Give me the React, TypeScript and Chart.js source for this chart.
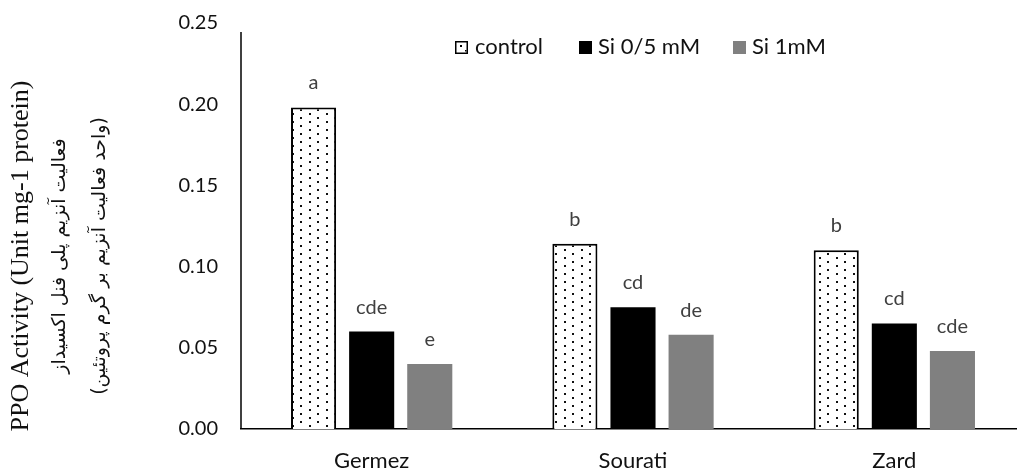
import React, { useEffect, useRef } from 'react';
import { Chart, registerables } from 'chart.js';

Chart.register(...registerables);

const categories = ['Germez', 'Sourati', 'Zard'];
const seriesNames = ['control', 'Si 0/5 mM', 'Si 1mM'];
const controlValues = [0.198, 0.114, 0.110];
const si05Values = [0.060, 0.075, 0.065];
const si1Values = [0.040, 0.058, 0.048];
const controlLetters = ['a', 'b', 'b'];
const si05Letters = ['cde', 'cd', 'cd'];
const si1Letters = ['e', 'de', 'cde'];
const yMin = 0;
const yMax = 0.25;
const yStep = 0.05;
const titleLines = [
  'PPO Activity (Unit mg-1 protein)',
  'فعالیت آنزیم پلی فنل اکسیداز',
  '(واحد فعالیت آنزیم بر گرم پروتئین)',
];

const letters = [controlLetters, si05Letters, si1Letters];

export default function App() {
  const ref = useRef<HTMLCanvasElement>(null);

  useEffect(() => {
    const canvas = ref.current!;
    const ctx = canvas.getContext('2d')!;

    const pc = document.createElement('canvas');
    pc.width = 17;
    pc.height = 8;
    const pctx = pc.getContext('2d')!;
    pctx.fillStyle = '#ffffff';
    pctx.fillRect(0, 0, 17, 8);
    pctx.fillStyle = '#111111';
    pctx.fillRect(3, 1, 2, 2);
    pctx.fillRect(11, 5, 2, 2);
    const pattern = ctx.createPattern(pc, 'repeat')!;

    const decor = {
      id: 'decor',
      afterDraw(chart: any) {
        const c = chart.ctx;
        const area = chart.chartArea;
        c.save();
        // y axis line
        c.strokeStyle = '#000';
        c.lineWidth = 1.5;
        c.beginPath();
        c.moveTo(area.left, area.top + 9);
        c.lineTo(area.left, area.bottom);
        c.stroke();

        // letters
        c.fillStyle = '#404040';
        c.font = '20px Lato';
        c.textAlign = 'center';
        c.textBaseline = 'alphabetic';
        chart.data.datasets.forEach((ds: any, di: number) => {
          const meta = chart.getDatasetMeta(di);
          meta.data.forEach((el: any, i: number) => {
            c.fillText(letters[di][i], el.x, el.y - 18);
          });
        });

        // legend
        c.textAlign = 'left';
        c.font = '22px Lato';
        const items = [
          { bx: 455, tx: 475 },
          { bx: 579, tx: 598 },
          { bx: 733, tx: 752 },
        ];
        items.forEach((it, i) => {
          if (i === 0) {
            c.fillStyle = '#fff';
            c.fillRect(it.bx, 41, 13, 13);
            c.strokeStyle = '#000';
            c.lineWidth = 1.5;
            c.strokeRect(it.bx + 0.75, 41.75, 11.5, 11.5);
            c.fillStyle = '#000';
            c.fillRect(it.bx + 5, 45, 2, 2);
            c.fillRect(it.bx + 10, 50, 1.5, 1.5);
          } else {
            c.fillStyle = i === 1 ? '#000' : '#808080';
            c.fillRect(it.bx, 41, 13, 13);
          }
          c.fillStyle = '#111';
          c.fillText(seriesNames[i], it.tx, 54);
        });

        // y title
        const cy = 256;
        c.fillStyle = '#111';
        c.textAlign = 'center';
        c.save();
        c.translate(28, cy);
        c.rotate(-Math.PI / 2);
        c.font = '26px "Liberation Serif"';
        c.fillText(titleLines[0], 0, 0);
        c.restore();
        [65, 105].forEach((x, k) => {
          c.save();
          c.translate(x, cy);
          c.rotate(-Math.PI / 2);
          c.direction = 'rtl';
          c.font = '19px "DejaVu Sans"';
          c.fillText(titleLines[k + 1], 0, 0);
          c.restore();
        });
        c.restore();
      },
    };

    const chart = new Chart(ctx, {
      type: 'bar',
      data: {
        labels: categories,
        datasets: [
          {
            label: seriesNames[0],
            data: controlValues,
            backgroundColor: pattern as any,
            borderColor: '#000',
            borderWidth: 2,
          },
          {
            label: seriesNames[1],
            data: si05Values,
            backgroundColor: '#000000',
            borderWidth: 0,
          },
          {
            label: seriesNames[2],
            data: si1Values,
            backgroundColor: '#808080',
            borderWidth: 0,
          },
        ],
      },
      options: {
        animation: false,
        responsive: false,
        maintainAspectRatio: false,
        layout: { padding: { left: 0, right: 8, top: 23, bottom: 0 } },
        datasets: {
          bar: { categoryPercentage: 0.667, barPercentage: 0.776 },
        },
        plugins: {
          legend: { display: false },
          tooltip: { enabled: false },
        },
        scales: {
          x: {
            grid: { display: false, drawTicks: false },
            border: { display: true, color: '#000', width: 1.5 },
            ticks: { color: '#111', font: { family: 'Lato', size: 22 }, padding: 19 },
            afterFit: (s: any) => {
              s.height = 44;
            },
          },
          y: {
            min: yMin,
            max: yMax,
            grid: { display: false, drawTicks: false },
            border: { display: false },
            ticks: {
              stepSize: yStep,
              color: '#111',
              font: { family: 'Lato', size: 20 },
              padding: 23,
              callback: (v: any) => Number(v).toFixed(2),
            },
            afterFit: (s: any) => {
              s.width = 241;
              s.paddingTop = 0;
              s.paddingBottom = 0;
            },
          },
        },
      },
      plugins: [decor],
    });
    return () => chart.destroy();
  }, []);

  return (
    <div
      style={{
        position: 'fixed',
        left: 0,
        top: 0,
        width: 1017,
        height: 473,
        overflow: 'hidden',
        background: '#fff',
      }}
    >
      <canvas ref={ref} width={1033} height={473} style={{ width: 1033, height: 473, display: 'block' }} />
    </div>
  );
}
